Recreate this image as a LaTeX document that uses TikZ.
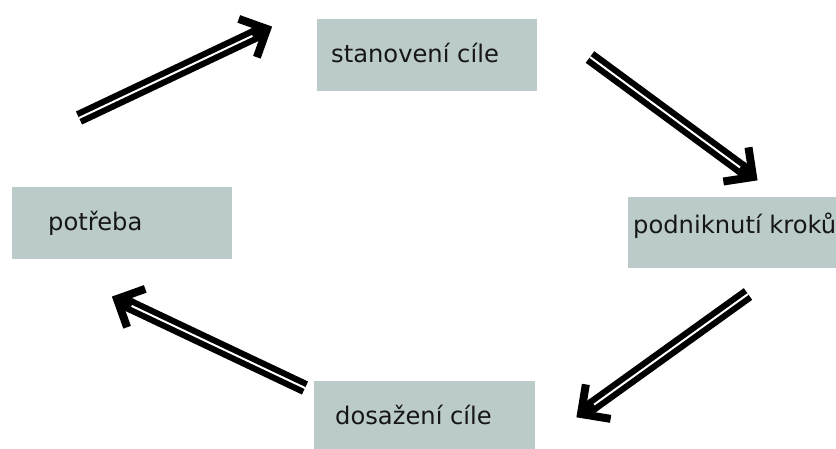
\documentclass[tikz,border=0pt]{standalone}
\usepackage{fontspec}
\setmainfont{DejaVu Sans}
\usetikzlibrary{positioning, calc}
\definecolor{boxgrey}{RGB}{186,203,201}
\definecolor{inkblack}{RGB}{22,22,22}
\tikzset{
  stepbox/.style={fill=boxgrey, draw=none, anchor=north west, minimum width=220pt, minimum height=72pt, inner sep=0pt},
  lbl/.style={inner sep=0pt, text=inkblack, font=\fontsize{24.2}{29}\selectfont},
  shaft/.style={draw=black, double=white, double distance=2pt, line width=6.2pt},
  barb/.style={draw=black, line width=8pt, line join=miter},
}

\begin{document}
\begin{tikzpicture}[x=1pt, y=-1pt]
    \useasboundingbox (0,0) rectangle (836,448);
    \clip (0,0) rectangle (836,448);
    \fill[white] (0,0) rectangle (836,448);

    % boxes
    \node[stepbox] (cil) at (317,19) {};
    \node[stepbox] (potreba) at (12,187) {};
    \node[stepbox, minimum height=71pt] (kroky) at (628,197) {};
    \node[stepbox, minimum width=221pt] (dosazeni) at (314,381) {};

    % texts
    \node[lbl, right=14pt of cil.west, yshift=2pt] (cilText) {stanovení cíle};
    \node[lbl, right=36pt of potreba.west] (potrebaText) {potřeba};
    \node[lbl, right=5pt of kroky.west, yshift=7pt] (krokyText) {podniknutí kroků};
    \node[lbl, right=21pt of dosazeni.west, yshift=2pt] (dosazeniText) {dosažení cíle};

    % arrows
    \coordinate (a1s) at (79,118);
    \coordinate (a1e) at (267,29);
    \coordinate (a2s) at (590,57);
    \coordinate (a2e) at (753,177);
    \coordinate (a3s) at (748,294);
    \coordinate (a3e) at (581,414);
    \coordinate (a4s) at (305,388);
    \coordinate (a4e) at (117,299);

    \foreach \s/\e in {a1s/a1e, a2s/a2e, a3s/a3e, a4s/a4e} {
        \draw[shaft] (\s) -- ($(\e)!14pt!(\s)$);
        \draw[line width=14.4pt] ($(\e)!16pt!(\s)$) -- ($(\e)!3pt!(\s)$);
        \draw[barb] ($(\e)!30pt!45:(\s)$) -- (\e) -- ($(\e)!30pt!-45:(\s)$);
    }
\end{tikzpicture}
\end{document}
